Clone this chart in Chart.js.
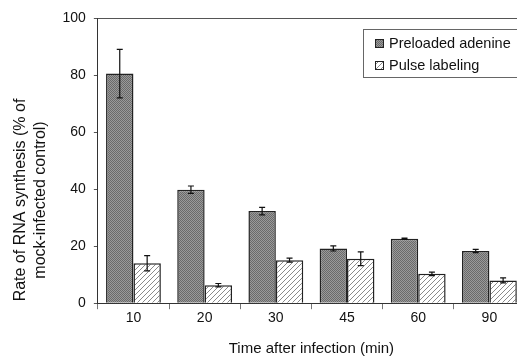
<!DOCTYPE html>
<html>
<head>
<meta charset="utf-8">
<script src="https://cdn.jsdelivr.net/npm/chart.js@4.4.0/dist/chart.umd.min.js"></script>
<style>
  body { margin: 0; overflow: hidden; background: #fff; }
  #wrap { width: 530px; height: 356px; }
</style>
</head>
<body>
<div id="wrap"><canvas id="chart" width="530" height="356"></canvas></div>
<script>
const times = ["10", "20", "30", "45", "60", "90"];
const preloaded = [80.5, 39.8, 32.3, 19.2, 22.6, 18.3];
const preloadedErr = [8.5, 1.3, 1.3, 0.9, 0.2, 0.6];
const pulse = [14.0, 6.3, 15.1, 15.6, 10.3, 8.0];
const pulseErr = [2.7, 0.6, 0.7, 2.4, 0.6, 0.9];
const yTicks = [0, 20, 40, 60, 80, 100];
const yTitle = ["Rate of RNA synthesis (% of", "mock-infected control)"];

const FONT = "'Liberation Sans', Arial, sans-serif";

// fill patterns
function makeChecker() {
  const c = document.createElement("canvas");
  c.width = 2; c.height = 2;
  const g = c.getContext("2d");
  g.fillStyle = "#9a9a9a";
  g.fillRect(0, 0, 2, 2);
  g.fillStyle = "#6a6a6a";
  g.fillRect(0, 0, 1, 1);
  g.fillRect(1, 1, 1, 1);
  return g.createPattern(c, "repeat");
}

function makeHatch() {
  const c = document.createElement("canvas");
  c.width = 5; c.height = 5;
  const g = c.getContext("2d");
  g.fillStyle = "#fff";
  g.fillRect(0, 0, 5, 5);
  g.strokeStyle = "#8a8a8a";
  g.lineWidth = 1;
  g.beginPath();
  g.moveTo(-1, 6); g.lineTo(6, -1);
  g.moveTo(-1, 1); g.lineTo(1, -1);
  g.moveTo(4, 6); g.lineTo(6, 4);
  g.stroke();
  return g.createPattern(c, "repeat");
}

const errors = [preloadedErr, pulseErr];

const errorBars = {
  id: "errorBars",
  afterDatasetsDraw(chart) {
    const ctx = chart.ctx;
    const y = chart.scales.y;
    ctx.save();
    ctx.strokeStyle = "#111";
    ctx.lineWidth = 1.2;
    chart.data.datasets.forEach((ds, i) => {
      const meta = chart.getDatasetMeta(i);
      meta.data.forEach((bar, j) => {
        const v = ds.data[j], e = errors[i][j];
        const t = y.getPixelForValue(v + e);
        const b = y.getPixelForValue(v - e);
        ctx.beginPath();
        ctx.moveTo(bar.x, t); ctx.lineTo(bar.x, b);
        ctx.moveTo(bar.x - 3, t); ctx.lineTo(bar.x + 3, t);
        ctx.moveTo(bar.x - 3, b); ctx.lineTo(bar.x + 3, b);
        ctx.stroke();
      });
    });
    ctx.restore();
  }
};

const frame = {
  id: "frame",
  afterDraw(chart) {
    const ctx = chart.ctx;
    const a = chart.chartArea;
    ctx.save();
    ctx.strokeStyle = "#555";
    ctx.lineWidth = 1;
    ctx.beginPath();
    ctx.moveTo(a.left, a.top + 0.5);
    ctx.lineTo(a.right, a.top + 0.5);
    ctx.stroke();

    // y axis title, sits a bit below the middle like the original
    ctx.fillStyle = "#111";
    ctx.font = "16px " + FONT;
    ctx.textAlign = "center";
    ctx.textBaseline = "alphabetic";
    [25, 45].forEach((x, i) => {
      ctx.save();
      ctx.translate(x, 200);
      ctx.rotate(-Math.PI / 2);
      ctx.fillText(yTitle[i], 0, 0);
      ctx.restore();
    });

    // legend box
    const lx = 363, ly = 29, lw = 180, lh = 48;
    ctx.strokeStyle = "#666";
    ctx.strokeRect(lx + 0.5, ly + 0.5, lw, lh);
    ctx.font = "14.5px " + FONT;
    ctx.textAlign = "left";
    ctx.textBaseline = "middle";
    chart.data.datasets.forEach((ds, i) => {
      const cy = 43.5 + i * 22;
      ctx.fillStyle = ds.backgroundColor;
      ctx.fillRect(375, cy - 4.5, 9, 9);
      ctx.strokeStyle = "#222";
      ctx.strokeRect(375.5, cy - 4, 8, 8);
      ctx.fillStyle = "#111";
      ctx.fillText(ds.label, 389, cy);
    });
    ctx.restore();
  }
};

new Chart(document.getElementById("chart"), {
  type: "bar",
  data: {
    labels: times,
    datasets: [
      {
        label: "Preloaded adenine",
        data: preloaded,
        backgroundColor: makeChecker(),
        borderColor: "#222",
        borderWidth: 1.5,
        categoryPercentage: 0.77,
        barPercentage: 1
      },
      {
        label: "Pulse labeling",
        data: pulse,
        backgroundColor: makeHatch(),
        borderColor: "#222",
        borderWidth: 1.5,
        categoryPercentage: 0.77,
        barPercentage: 1
      }
    ]
  },
  options: {
    responsive: false,
    animation: false,
    layout: { padding: { top: 18, right: 5, left: 54.5, bottom: -2 } },
    plugins: {
      legend: { display: false },
      tooltip: { enabled: false }
    },
    scales: {
      x: {
        grid: { offset: true, drawOnChartArea: false, tickLength: 6, color: "#777" },
        border: { color: "#333", width: 1 },
        ticks: { color: "#111", font: { family: FONT, size: 14 }, padding: 1 },
        title: {
          display: true,
          text: "Time after infection (min)",
          color: "#111",
          font: { family: FONT, size: 15 },
          padding: { top: 12, bottom: 0 }
        }
      },
      y: {
        min: 0,
        max: 100,
        afterBuildTicks: (axis) => { axis.ticks = yTicks.map((v) => ({ value: v })); },
        grid: { drawOnChartArea: false, tickLength: 4, color: "#555" },
        border: { color: "#333", width: 1 },
        ticks: { color: "#111", font: { family: FONT, size: 14 }, padding: 8 }
      }
    }
  },
  plugins: [errorBars, frame]
});
</script>
</body>
</html>
